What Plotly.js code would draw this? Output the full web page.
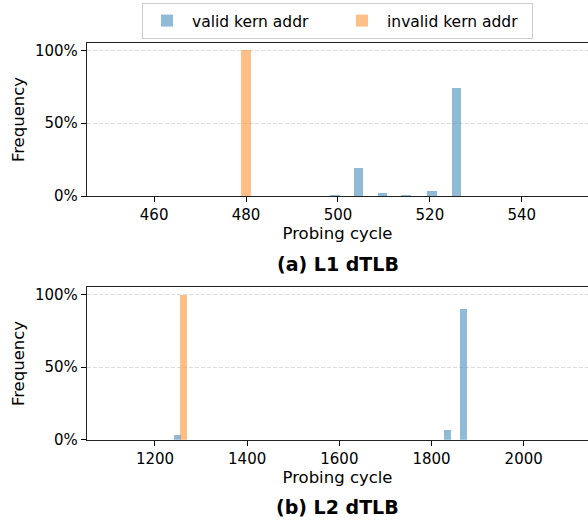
<!DOCTYPE html>
<html><head><meta charset="utf-8">
<script src="https://cdn.plot.ly/plotly-3.0.1.min.js"></script>
<style>html,body{margin:0;padding:0;background:#fff}#plot{width:588px;height:520px}</style>
</head><body><div id="plot"></div>
<script>
const l1ValidX = [499.3, 504.5, 509.7, 514.8, 520.4, 525.8];
const l1ValidY = [0.5, 19.1, 1.9, 0.5, 3.2, 74.3];
const l1InvalidX = [480];
const l1InvalidY = [100];
const l2ValidX = [1248.5, 1834, 1870];
const l2ValidY = [3.2, 6.7, 90.1];
const l2InvalidX = [1262];
const l2InvalidY = [100];
const yTickVals = [0, 50, 100];
const yTickText = ['0%', '50%', '100%'];

const blue = 'rgba(31,119,180,0.5)';
const orange = 'rgba(255,127,14,0.5)';
const w1 = 2.1, w2 = 15;

const traces = [
  {type:'bar', x:l1ValidX, y:l1ValidY, width:l1ValidX.map(()=>w1), marker:{color:blue}, name:'valid kern addr', xaxis:'x', yaxis:'y', legendgroup:'v'},
  {type:'bar', x:l1InvalidX, y:l1InvalidY, width:l1InvalidX.map(()=>w1), marker:{color:orange}, name:'invalid kern addr', xaxis:'x', yaxis:'y', legendgroup:'i'},
  {type:'bar', x:l2ValidX, y:l2ValidY, width:l2ValidX.map(()=>w2), marker:{color:blue}, name:'valid kern addr', xaxis:'x2', yaxis:'y2', legendgroup:'v', showlegend:false},
  {type:'bar', x:l2InvalidX, y:l2InvalidY, width:l2InvalidX.map(()=>w2), marker:{color:orange}, name:'invalid kern addr', xaxis:'x2', yaxis:'y2', legendgroup:'i', showlegend:false}
];

const font = {family:'DejaVu Sans', size:15, color:'#000'};
const xBase = {showline:true, linecolor:'#222', linewidth:1.2, mirror:true, ticks:'outside', ticklen:5, tickcolor:'#000', showgrid:false, zeroline:false, tickfont:{size:15}, title:{text:'Probing cycle', font:{size:16.5}, standoff:4}};
const yBase = {showline:true, linecolor:'#222', linewidth:1.2, mirror:true, ticks:'outside', ticklen:5, tickcolor:'#000', range:[0,105], tickvals:yTickVals, ticktext:yTickText, showgrid:true, gridcolor:'#dcdcdc', griddash:'4px,2px', gridwidth:1, zeroline:false, tickfont:{size:15}, title:{text:'Frequency', font:{size:16.5}, standoff:6}};

const layout = {
  width:588, height:520, font:font, paper_bgcolor:'#fff', plot_bgcolor:'#fff',
  margin:{l:0, r:0, t:0, b:0}, barmode:'overlay', bargap:0,
  xaxis:Object.assign({}, xBase, {domain:[87/588, 1], range:[445.4, 554.4], dtick:20, tick0:0, anchor:'y'}),
  yaxis:Object.assign({}, yBase, {domain:[1-196/520, 1-43/520], anchor:'x'}),
  xaxis2:Object.assign({}, xBase, {domain:[87/588, 1], range:[1052.5, 2139.5], dtick:200, tick0:0, anchor:'y2'}),
  yaxis2:Object.assign({}, yBase, {domain:[1-439.7/520, 1-287.3/520], anchor:'x2'}),
  legend:{orientation:'h', x:337.5/588, xanchor:'center', y:1-3/520, yanchor:'top', bordercolor:'#cccccc', borderwidth:1, font:{size:15.5}, itemwidth:40, entrywidth:140, bgcolor:'#fff'},
  annotations:[
    {text:'<b>(a) L1 dTLB</b>', xref:'paper', yref:'paper', x:337.5/588, y:1-264/520, xanchor:'center', yanchor:'middle', showarrow:false, font:{size:19}},
    {text:'<b>(b) L2 dTLB</b>', xref:'paper', yref:'paper', x:337.5/588, y:1-507/520, xanchor:'center', yanchor:'middle', showarrow:false, font:{size:19}}
  ]
};
Plotly.newPlot('plot', traces, layout, {displayModeBar:false, staticPlot:true});
</script></body></html>
